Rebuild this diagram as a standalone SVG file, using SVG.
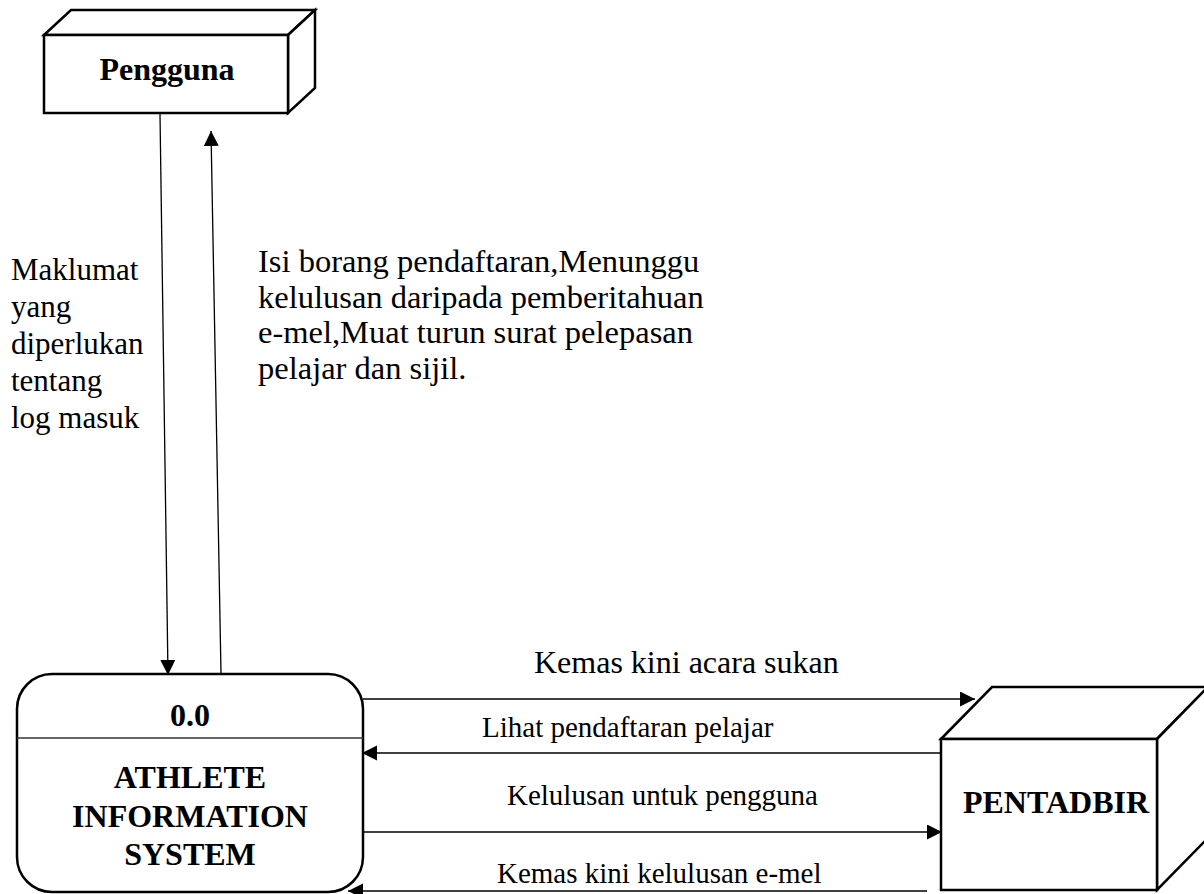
<svg xmlns="http://www.w3.org/2000/svg" width="1204" height="894" viewBox="0 0 1204 894">
<style>
.box{fill:#fff;stroke:#000;stroke-width:2.5;stroke-linejoin:miter}
.bold{font-family:"Liberation Serif","Times New Roman",serif;font-weight:bold;font-size:32px;fill:#000;text-anchor:middle}
.lbl{font-family:"Liberation Serif","Times New Roman",serif;font-size:31px;fill:#000}
.sm{font-size:29px}
.big{font-size:32.5px}
.conn{fill:none;stroke:#000;stroke-width:1.3}
</style>
<defs>
<marker id="ah" markerUnits="userSpaceOnUse" markerWidth="16" markerHeight="16" refX="15" refY="7.5" orient="auto">
<path d="M0,0 L15,7.5 L0,15 z" fill="#000"/>
</marker>
</defs>
<rect width="1204" height="894" fill="#fff"/>

<g id="pengguna">
<path class="box" d="M44,35 L71,10 L315,10 L288,35 Z"/>
<path class="box" d="M288,35 L315,10 L315,88 L288,113 Z"/>
<rect class="box" x="44" y="35" width="244" height="78"/>
<text class="bold" x="167" y="80">Pengguna</text>
</g>

<g id="pentadbir">
<path class="box" d="M941,739 L992,687 L1208,687 L1157,739 Z"/>
<path class="box" d="M1157,739 L1208,687 L1208,838 L1157,890 Z"/>
<rect class="box" x="941" y="739" width="216" height="151"/>
<text class="bold" x="1056" y="813">PENTADBIR</text>
</g>

<g id="process">
<rect class="box" x="17" y="674" width="346" height="218" rx="35" ry="35"/>
<line x1="17" y1="738" x2="363" y2="738" stroke="#333" stroke-width="1.5"/>
<text class="bold" x="190" y="726">0.0</text>
<text class="bold" x="190" y="788">ATHLETE</text>
<text class="bold" x="190" y="827">INFORMATION</text>
<text class="bold" x="190" y="865">SYSTEM</text>
</g>

<g id="connectors">
<line class="conn" x1="160" y1="114" x2="168" y2="675" marker-end="url(#ah)"/>
<line class="conn" x1="221" y1="673" x2="211" y2="131" marker-end="url(#ah)"/>
<line class="conn" x1="363" y1="699" x2="975" y2="699" marker-end="url(#ah)"/>
<line class="conn" x1="940" y1="753" x2="362" y2="753" marker-end="url(#ah)"/>
<line class="conn" x1="363" y1="832" x2="942" y2="832" marker-end="url(#ah)"/>
<line class="conn" x1="927" y1="891" x2="348" y2="891" marker-end="url(#ah)"/>
</g>

<g id="labels">
<text class="lbl"><tspan x="11" y="280">Maklumat</tspan><tspan x="11" y="317">yang</tspan><tspan x="11" y="354">diperlukan</tspan><tspan x="11" y="391">tentang</tspan><tspan x="11" y="428">log masuk</tspan></text>
<text class="lbl big"><tspan x="258" y="272">Isi borang pendaftaran,Menunggu</tspan><tspan x="258" y="307.5">kelulusan daripada pemberitahuan</tspan><tspan x="258" y="343">e-mel,Muat turun surat pelepasan</tspan><tspan x="258" y="378.5">pelajar dan sijil.</tspan></text>
<text class="lbl" x="534" y="673" style="font-size:32px">Kemas kini acara sukan</text>
<text class="lbl sm" x="482" y="737">Lihat pendaftaran pelajar</text>
<text class="lbl sm" x="507" y="805">Kelulusan untuk pengguna</text>
<text class="lbl sm" x="497" y="883">Kemas kini kelulusan e-mel</text>
</g>
</svg>
